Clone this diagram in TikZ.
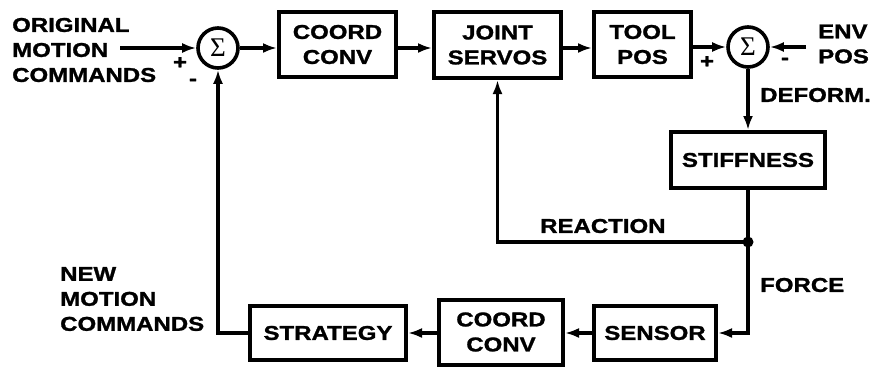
\documentclass[tikz,border=0pt]{standalone}
\usepackage{fontspec}
\setmainfont[FakeStretch=1.2, BoldFeatures={FakeBold=1.3}]{Liberation Sans}
\newfontfamily\sigfont{Liberation Serif}
\usetikzlibrary{arrows.meta}
\tikzset{
 lbl/.style={font=\fontsize{20}{25}\selectfont\bfseries, inner sep=0pt, align=left},
 blk/.style={draw, line width=4pt, font=\fontsize{20}{25}\selectfont\bfseries, align=center, inner sep=0pt},
 sumc/.style={draw, circle, line width=3.6pt, minimum size=40pt, inner sep=0pt, font=\sigfont\fontsize{27}{27}\selectfont},
 conn/.style={line width=3.4pt, -{Latex[length=14pt,width=10pt]}},
 plainln/.style={line width=3.4pt},
 sgn/.style={font=\fontsize{20}{20}\selectfont\bfseries, inner sep=0pt}
}
\begin{document}
\begin{tikzpicture}[x=1pt,y=-1pt]
\useasboundingbox[fill=white] (0,0) rectangle (874,370);
% top row
\node[lbl,anchor=west] (orig) at (12,50) {ORIGINAL\\MOTION\\COMMANDS};
\coordinate (origout) at (120,48);
\node[sumc] (s1) at (218,48) {Σ};
\node[sgn] (p1) at (180,63) {+};
\node[sgn] (m1) at (193,82) {-};
\node[blk,minimum width=117pt,minimum height=65pt] (cc1) at (337.5,44.5) {COORD\\CONV};
\node[blk,minimum width=127pt,minimum height=66pt] (joint) at (497.5,45) {JOINT\\SERVOS};
\node[blk,minimum width=97pt,minimum height=65pt] (tool) at (642.5,44.5) {TOOL\\POS};
\node[sumc] (s2) at (748,47) {Σ};
\node[sgn] (p2) at (707,62) {+};
\node[sgn] (m2) at (785,61) {-};
\node[lbl,anchor=west] (env) at (818,44) {ENV\\POS};
\coordinate (envin) at (806,47);
\node[lbl,anchor=west] (deform) at (760,95) {DEFORM.};
% right column
\node[blk,minimum width=154pt,minimum height=56pt] (stiff) at (748,160) {STIFFNESS};
\node[circle,fill,minimum size=11pt,inner sep=0pt] (dot) at (748,242) {};
\node[lbl,anchor=west] (reaction) at (540,226) {REACTION};
\node[lbl,anchor=west] (force) at (760,285) {FORCE};
% bottom row
\node[blk,minimum width=122pt,minimum height=54pt] (sensor) at (655,333) {SENSOR};
\node[blk,minimum width=124pt,minimum height=65pt] (cc2) at (501,332) {COORD\\CONV};
\node[blk,minimum width=156pt,minimum height=54pt] (strat) at (328,333) {STRATEGY};
\node[lbl,anchor=west] (newmc) at (60,299) {NEW\\MOTION\\COMMANDS};
% connectors
\draw[conn] (origout) -- (s1.west);
\draw[conn] (s1.east) -- (s1.east -| cc1.west);
\draw[conn] (cc1.east |- s1) -- (joint.west |- s1);
\draw[conn] (joint.east |- s1) -- (tool.west |- s1);
\draw[conn] (tool.east |- s2) -- (s2.west);
\draw[conn] (envin) -- (s2.east);
\draw[conn] (s2.south) -- (stiff.north);
\draw[plainln] (stiff.south) -- (dot.center);
\draw[conn] (dot.center) -- (dot.center -| joint.south) -- (joint.south);
\draw[conn] (dot.center) -- (dot.center |- sensor.east) -- (sensor.east);
\draw[conn] (sensor.west) -- (cc2.east |- sensor.west);
\draw[conn] (cc2.west |- strat.east) -- (strat.east);
\draw[conn] (strat.west) -- (strat.west -| s1.south) -- (s1.south);
\end{tikzpicture}
\end{document}
